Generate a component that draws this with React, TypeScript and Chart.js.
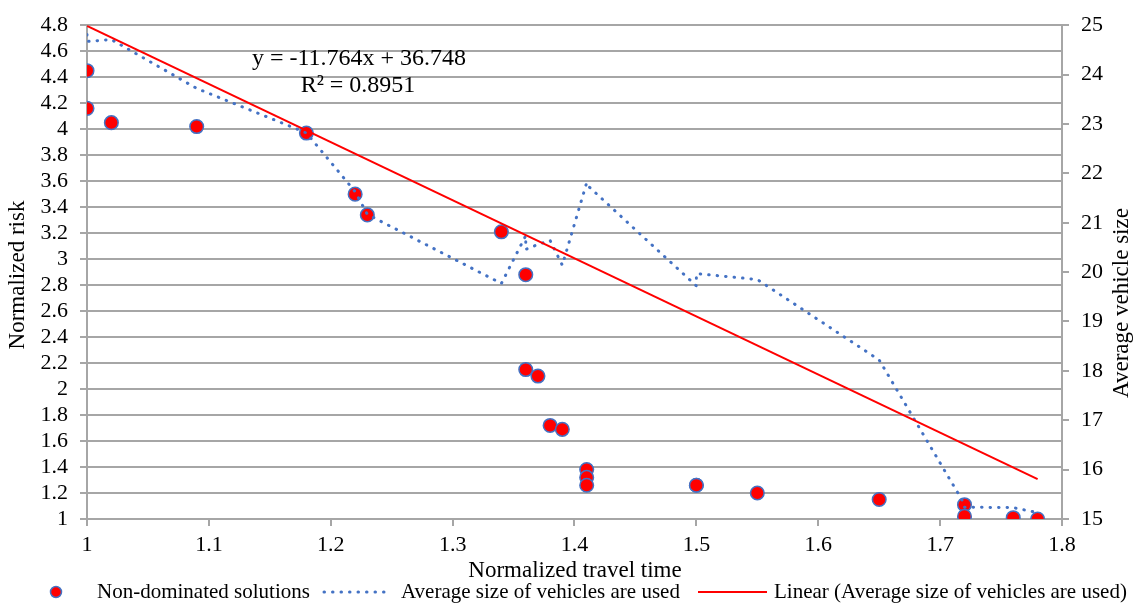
import React, { useEffect, useRef } from "react";
import { Chart, registerables } from "chart.js";

Chart.register(...registerables);

const FONT = "'Liberation Serif', 'Times New Roman', serif";

// Non-dominated solutions (x = normalized travel time)
const travelTime = [1, 1, 1.02, 1.09, 1.18, 1.22, 1.23, 1.34, 1.36, 1.36, 1.37, 1.38, 1.39, 1.41, 1.41, 1.41, 1.5, 1.5, 1.55, 1.65, 1.72, 1.72, 1.76, 1.78];
const normalizedRisk = [4.45, 4.16, 4.05, 4.02, 3.97, 3.5, 3.34, 3.21, 2.88, 2.15, 2.1, 1.72, 1.69, 1.38, 1.32, 1.26, 1.26, 1.26, 1.2, 1.15, 1.11, 1.02, 1.01, 1.0];
const avgVehicleSize = [24.81, 24.67, 24.71, 23.72, 22.82, 21.63, 21.17, 19.77, 20.74, 20.46, 20.56, 20.64, 20.14, 21.81, 21.79, 21.77, 19.72, 19.97, 19.85, 18.22, 15.3, 15.24, 15.23, 15.13];

// Linear trendline of the average vehicle size
const trendSlope = -11.764;
const trendIntercept = 36.748;
const rSquared = 0.8951;

const seriesNames = [
  "Non-dominated solutions",
  "Average size of vehicles are used",
  "Linear (Average size of vehicles are used)",
];
const xTitle = "Normalized travel time";
const yTitle = "Normalized risk";
const y1Title = "Average vehicle size";

const RED = "#ff0000";
const BLUE = "#4472c4";
const GRID = "#a6a6a6";

const fmt = (v: number) => String(Number(Number(v).toFixed(1)));

const textPlugin = {
  id: "extraTexts",
  afterDraw(chart: any) {
    const ctx = chart.ctx as CanvasRenderingContext2D;
    ctx.save();
    ctx.fillStyle = "#000";
    ctx.textBaseline = "middle";
    ctx.textAlign = "center";
    ctx.font = `24px ${FONT}`;
    ctx.fillText(`y = ${trendSlope}x + ${trendIntercept}`, 359, 59);
    ctx.fillText(`R² = ${rSquared}`, 358, 86);
    ctx.font = `23px ${FONT}`;
    ctx.fillText(xTitle, 575, 571);

    ctx.save();
    ctx.translate(18, 275);
    ctx.rotate(-Math.PI / 2);
    ctx.fillText(yTitle, 0, 0);
    ctx.restore();

    ctx.save();
    ctx.translate(1122, 303);
    ctx.rotate(-Math.PI / 2);
    ctx.fillText(y1Title, 0, 0);
    ctx.restore();

    // legend
    const ly = 592;
    ctx.font = `21px ${FONT}`;
    ctx.textAlign = "left";
    ctx.beginPath();
    ctx.arc(56, ly, 5.5, 0, Math.PI * 2);
    ctx.fillStyle = RED;
    ctx.fill();
    ctx.lineWidth = 1.5;
    ctx.strokeStyle = BLUE;
    ctx.stroke();
    ctx.fillStyle = "#000";
    ctx.fillText(seriesNames[0], 97, ly);

    ctx.save();
    ctx.beginPath();
    ctx.setLineDash([0.5, 8]);
    ctx.lineCap = "round";
    ctx.lineWidth = 3;
    ctx.strokeStyle = BLUE;
    ctx.moveTo(324, ly);
    ctx.lineTo(390, ly);
    ctx.stroke();
    ctx.restore();
    ctx.fillText(seriesNames[1], 401, ly);

    ctx.beginPath();
    ctx.lineWidth = 2;
    ctx.strokeStyle = RED;
    ctx.moveTo(698, ly);
    ctx.lineTo(767, ly);
    ctx.stroke();
    ctx.fillStyle = "#000";
    ctx.fillText(seriesNames[2], 774, ly);
    ctx.restore();
  },
};

export default function App() {
  const ref = useRef<HTMLCanvasElement | null>(null);

  useEffect(() => {
    if (!ref.current) return;
    const scatterData = travelTime.map((x, i) => ({ x, y: normalizedRisk[i] }));
    const sizeData = travelTime.map((x, i) => ({ x, y: avgVehicleSize[i] }));
    const trendEnds = [travelTime[0], travelTime[travelTime.length - 1]];
    const trendData = trendEnds.map((x) => ({ x, y: trendSlope * x + trendIntercept }));

    const tickFont = { family: FONT, size: 22 };

    const chart = new Chart(ref.current, {
      type: "scatter",
      data: {
        datasets: [
          {
            label: seriesNames[0],
            data: scatterData,
            yAxisID: "y",
            backgroundColor: RED,
            borderColor: BLUE,
            borderWidth: 1.5,
            pointRadius: 6.8,
            showLine: false,
            order: 3,
          },
          {
            label: seriesNames[1],
            data: sizeData,
            yAxisID: "y1",
            showLine: true,
            borderColor: BLUE,
            borderWidth: 3,
            borderDash: [0.5, 8],
            borderCapStyle: "round",
            pointRadius: 0,
            tension: 0,
            fill: false,
            order: 2,
          },
          {
            label: seriesNames[2],
            data: trendData,
            yAxisID: "y1",
            showLine: true,
            borderColor: RED,
            borderWidth: 2,
            pointRadius: 0,
            fill: false,
            order: 1,
          },
        ],
      } as any,
      options: {
        responsive: false,
        animation: false,
        devicePixelRatio: 1,
        layout: { padding: { top: 20, left: 0, right: 0, bottom: 0 } },
        plugins: {
          legend: { display: false },
          tooltip: { enabled: false },
        },
        scales: {
          x: {
            type: "linear",
            position: "bottom",
            min: 1,
            max: 1.8,
            afterFit: (s: any) => {
              s.height = 87;
            },
            ticks: {
              stepSize: 0.1,
              autoSkip: false,
              maxRotation: 0,
              color: "#000",
              font: tickFont,
              padding: 6,
              callback: (v: any) => fmt(v),
            },
            grid: {
              drawOnChartArea: false,
              drawTicks: true,
              tickLength: 7,
              color: GRID,
              lineWidth: 2,
            },
            border: { display: true, color: GRID, width: 2 },
          },
          y: {
            type: "linear",
            position: "left",
            min: 1,
            max: 4.8,
            afterFit: (s: any) => {
              s.width = 87;
            },
            ticks: {
              stepSize: 0.2,
              autoSkip: false,
              color: "#000",
              font: tickFont,
              padding: 12,
              callback: (v: any) => fmt(v),
            },
            grid: {
              color: GRID,
              lineWidth: 2,
              tickLength: 7,
            },
            border: { display: true, color: GRID, width: 2 },
          },
          y1: {
            type: "linear",
            position: "right",
            min: 15,
            max: 25,
            afterFit: (s: any) => {
              s.width = 75;
            },
            ticks: {
              stepSize: 1,
              autoSkip: false,
              color: "#000",
              font: tickFont,
              padding: 12,
            },
            grid: {
              drawOnChartArea: false,
              color: GRID,
              lineWidth: 2,
              tickLength: 7,
            },
            border: { display: true, color: GRID, width: 2 },
          },
        },
      } as any,
      plugins: [textPlugin],
    });
    return () => chart.destroy();
  }, []);

  return (
    <div style={{ position: "absolute", left: 0, top: 0, width: 1137, height: 606, background: "#fff" }}>
      <canvas ref={ref} width={1137} height={606} style={{ display: "block" }} />
    </div>
  );
}
